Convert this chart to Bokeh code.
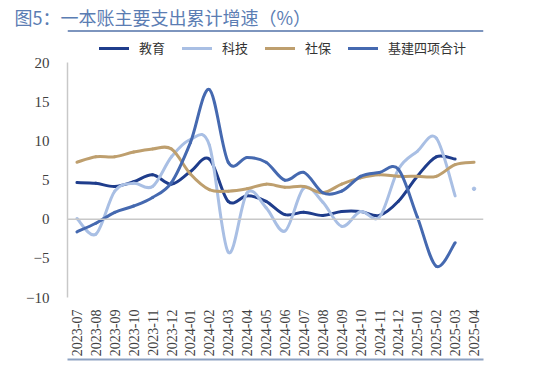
import numpy as np
from bokeh.plotting import figure
from bokeh.models import (Range1d, FixedTicker, Span, LinearAxis,
                          Legend, LegendItem, ColumnDataSource)
from bokeh.embed import file_html
from bokeh.resources import INLINE

months = ["2023-07", "2023-08", "2023-09", "2023-10", "2023-11", "2023-12",
          "2024-01", "2024-02", "2024-03", "2024-04", "2024-05", "2024-06",
          "2024-07", "2024-08", "2024-09", "2024-10", "2024-11", "2024-12",
          "2025-01", "2025-02", "2025-03", "2025-04"]
edu = [4.7, 4.6, 4.2, 4.8, 5.7, 4.5, 6.1, 7.7, 2.3, 3.0, 2.3, 0.6, 0.9, 0.5,
       1.0, 1.0, 0.5, 2.3, 5.5, 8.0, 7.7, None]
tech = [0.1, -1.9, 3.6, 4.6, 4.2, 8.0, 10.2, 9.5, -4.2, 3.4, 1.5, -1.5, 4.0,
        2.2, -0.9, 1.0, 0.3, 6.4, 8.7, 10.4, 3.0, 3.9]
soc = [7.3, 8.0, 8.0, 8.6, 9.0, 9.0, 5.8, 3.8, 3.6, 3.9, 4.5, 4.1, 4.2, 3.4,
       4.5, 5.3, 5.7, 5.5, 5.5, 5.5, 7.0, 7.3]
infra = [-1.6, -0.5, 0.9, 1.7, 2.8, 4.7, 9.8, 16.6, 7.3, 7.9, 7.3, 5.0, 6.0,
         3.4, 3.6, 5.5, 6.0, 6.4, 0.3, -6.0, -3.0, None]
y_ticks = [-10, -5, 0, 5, 10, 15, 20]
names = ["教育", "科技", "社保", "基建四项合计"]
colors = ["#1F3D8C", "#A9BFE4", "#BE9F6E", "#4569B0"]
title_text = "图5：一本账主要支出累计增速（%）"

# frame spans image y ~29.5..298; value axis -10..20 occupies 63..298
PX_PER_UNIT = 235 / 30
Y_TOP = 20 + (63 - 29.5) / PX_PER_UNIT
RULE_Y = 20 + (63 - 31) / PX_PER_UNIT

W, H = 538, 364
p = figure(width=W, height=H, output_backend="svg", toolbar_location=None,
           x_range=Range1d(-0.5, 21.5), y_range=Range1d(-10, Y_TOP),
           min_border_left=67, min_border_right=55, min_border_top=29,
           min_border_bottom=67)
p.outline_line_color = None
p.xgrid.grid_line_color = None
p.ygrid.grid_line_color = None

p.title.text = title_text
p.title.align = "left"
p.title.offset = -53
p.title.text_font = "Noto Sans CJK SC"
p.title.text_font_size = "18px"
p.title.text_font_style = "normal"
p.title.text_color = "#5B7DB3"
p.title.standoff = 0

p.xaxis.ticker = FixedTicker(ticks=list(range(len(months))))
p.xaxis.major_label_overrides = {i: m for i, m in enumerate(months)}
p.xaxis.major_label_orientation = np.pi / 2
p.xaxis.axis_line_color = None
p.xaxis.major_tick_line_color = None
p.xaxis.minor_tick_line_color = None
p.xaxis.major_label_standoff = 6
p.xaxis.major_label_text_font = "Liberation Serif"
p.xaxis.major_label_text_font_size = "14px"
p.xaxis.major_label_text_color = "#404040"

p.yaxis.ticker = FixedTicker(ticks=y_ticks)
p.yaxis.bounds = (-10, 20)
p.yaxis.axis_line_color = "#C8C8C8"
p.yaxis.axis_line_width = 1.5
p.yaxis.major_tick_line_color = None
p.yaxis.minor_tick_line_color = None
p.yaxis.major_label_standoff = 12
p.yaxis.major_label_text_font = "Liberation Serif"
p.yaxis.major_label_text_font_size = "15px"
p.yaxis.major_label_text_color = "#404040"

p.add_layout(Span(location=0, dimension="width", line_color="#C8C8C8",
                  line_width=1.5))
# decorative rule under the title
p.add_layout(Span(location=RULE_Y, dimension="width", line_color="#7D95BE",
                  line_width=2))


def bez_source(vals):
    ys = [v for v in vals if v is not None]
    n = len(ys)
    xs = list(range(n))
    d = dict(x0=[], y0=[], x1=[], y1=[], cx0=[], cy0=[], cx1=[], cy1=[])
    for i in range(n - 1):
        im = max(i - 1, 0)
        ip = min(i + 2, n - 1)
        d["x0"].append(xs[i]); d["y0"].append(ys[i])
        d["x1"].append(xs[i + 1]); d["y1"].append(ys[i + 1])
        d["cx0"].append(xs[i] + (xs[i + 1] - xs[im]) / 6)
        d["cy0"].append(ys[i] + (ys[i + 1] - ys[im]) / 6)
        d["cx1"].append(xs[i + 1] - (xs[ip] - xs[i]) / 6)
        d["cy1"].append(ys[i + 1] - (ys[ip] - ys[i]) / 6)
    return ColumnDataSource(d)


series = [edu, tech[:-1], soc, infra]
renderers = []
for vals, c in zip(series, colors):
    r = p.bezier(x0="x0", y0="y0", x1="x1", y1="y1", cx0="cx0", cy0="cy0",
                 cx1="cx1", cy1="cy1", source=bez_source(vals),
                 line_color=c, line_width=3, line_cap="round")
    renderers.append(r)

# isolated last point of 科技
p.scatter(x=[len(tech) - 1], y=[tech[-1]], size=3.5, color=colors[1])

legend = Legend(items=[LegendItem(label=n, renderers=[r])
                       for n, r in zip(names, renderers)],
                orientation="horizontal", location=(32, 240),
                glyph_width=30, glyph_height=14, label_standoff=10,
                spacing=17, padding=0, margin=0,
                border_line_color=None, background_fill_alpha=0,
                label_text_font="Noto Sans CJK SC",
                label_text_font_size="13px", label_text_color="#333333")
p.add_layout(legend, "center")

# decorative rule at the bottom
bot_rule = LinearAxis(ticker=FixedTicker(ticks=[]), bounds=(-0.5, 21.5),
                      axis_line_color="#8DA2C2", axis_line_width=2,
                      major_tick_line_color=None, minor_tick_line_color=None,
                      major_label_standoff=0)
p.add_layout(bot_rule, "below")

open("out.html", "w").write(file_html(p, INLINE))
